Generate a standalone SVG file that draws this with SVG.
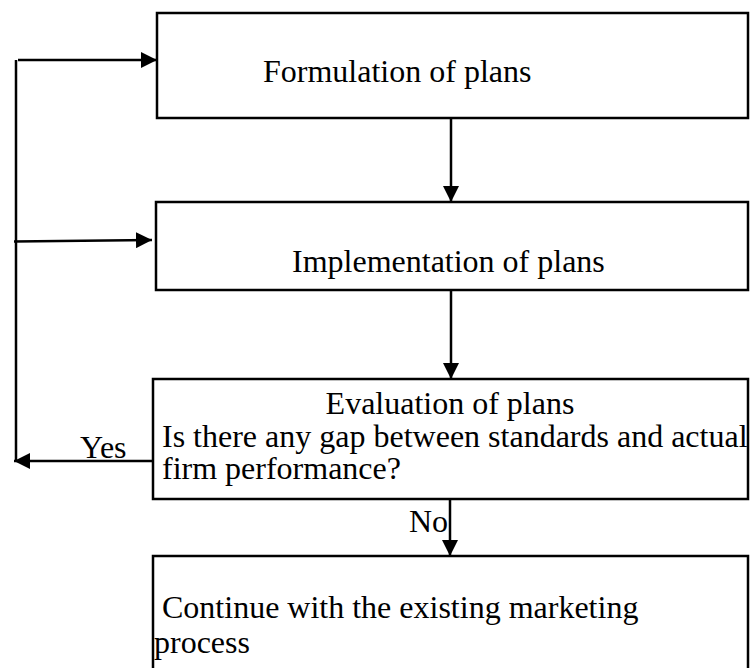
<svg xmlns="http://www.w3.org/2000/svg" width="751" height="668" viewBox="0 0 751 668">
<defs>
<style>
.box{fill:#fff;stroke:#000;stroke-width:2.5}
.t{font-family:"Liberation Serif","Times New Roman",serif;font-size:32px;fill:#000}
.c{fill:none;stroke:#000;stroke-width:2.5}
</style>
<marker id="ah" markerWidth="17" markerHeight="16" refX="16" refY="8" orient="auto" markerUnits="userSpaceOnUse">
<path d="M0,0 L16,8 L0,16 Z" fill="#000"/>
</marker>
</defs>
<rect width="751" height="668" fill="#fff"/>
<g id="n1">
<rect class="box" x="157" y="13" width="591" height="105"/>
<text class="t" x="263" y="82">Formulation of plans</text>
</g>
<g id="n2">
<rect class="box" x="156" y="202" width="592" height="88"/>
<text class="t" x="292" y="272">Implementation of plans</text>
</g>
<g id="n3">
<rect class="box" x="153" y="379" width="595" height="120"/>
<text class="t" x="450" y="414" text-anchor="middle">Evaluation of plans</text>
<text class="t" x="162" y="447">Is there any gap between standards and actual</text>
<text class="t" x="162" y="479">firm performance?</text>
</g>
<g id="n4">
<rect class="box" x="153" y="556" width="595" height="120"/>
<text class="t" x="162" y="618">Continue with the existing marketing</text>
<text class="t" x="154" y="653">process</text>
</g>
<g id="connectors">
<line class="c" x1="451" y1="118" x2="451" y2="202" marker-end="url(#ah)"/>
<line class="c" x1="451" y1="290" x2="451" y2="379" marker-end="url(#ah)"/>
<line class="c" x1="450" y1="499" x2="450" y2="556" marker-end="url(#ah)"/>
<line class="c" x1="153" y1="461" x2="14" y2="461" marker-end="url(#ah)"/>
<line class="c" x1="16" y1="60" x2="16" y2="461"/>
<line class="c" x1="18" y1="60" x2="157" y2="60" marker-end="url(#ah)"/>
<line class="c" x1="14" y1="241.5" x2="152" y2="240" marker-end="url(#ah)"/>
<text class="t" x="80" y="458">Yes</text>
<text class="t" x="409" y="532">No</text>
</g>
</svg>
